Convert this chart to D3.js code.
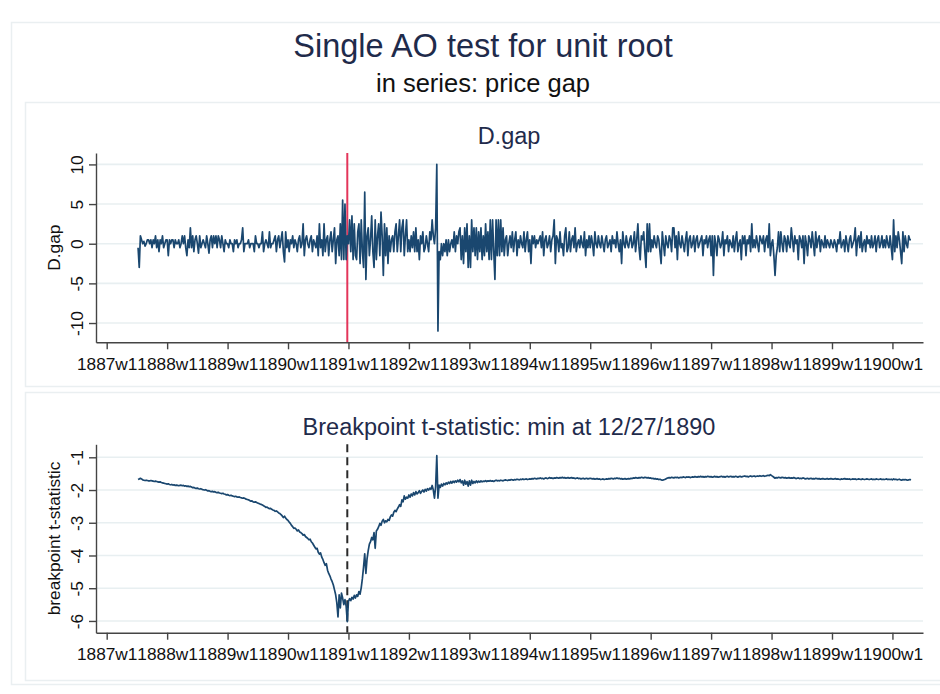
<!DOCTYPE html>
<html><head><meta charset="utf-8">
<script src="https://cdn.jsdelivr.net/npm/d3@7"></script>
<style>
body{margin:0;background:#fff}
svg{display:block}
text{font-family:"Liberation Sans",Arial,Helvetica,sans-serif}
</style>
</head><body>
<svg id="chart" width="940" height="694"></svg>
<script>
// ---------- DATA ----------
const titleText = "Single AO test for unit root";
const subtitleText = "in series: price gap";
const topPanelTitle = "D.gap";
const bottomPanelTitle = "Breakpoint t-statistic: min at 12/27/1890";
const topYTitle = "D.gap";
const bottomYTitle = "breakpoint t-statistic";

// weekly x-axis ticks (week index counted from 1887w1, 52 weeks per year)
const xTickLabels = ["1887w1","1888w1","1889w1","1890w1","1891w1","1892w1","1893w1","1894w1","1895w1","1896w1","1897w1","1898w1","1899w1","1900w1"];
const xTickWeeks = [0,52,104,156,208,260,312,364,416,468,520,572,624,676];
const firstWeek = 27;      // 1887w28: first observation
const breakWeek = 207;     // 1890w52 (12/27/1890)

const gapTicks = [-10,-5,0,5,10];
const tTicks = [-6,-5,-4,-3,-2,-1];

// D.gap, weekly from 1887w28
const dGap = [
// 1887
-0.5,-3,1,0.5,0,0.3,-0.3,0,0.5,0.5,0,0.5,-0.5,0.5,0,1,-0.5,0.5,-1,0.5,0,1,-0.5,0,0.5,
// 1888
0.5,-1.5,0.5,0,0.5,0.5,-0.5,0.5,0,0,0.5,-0.5,0,1,0,1,-0.5,-1.5,0.5,-0.5,2,-0.5,1,-1,0.5,1,0,-1.2,1,-0.5,0,0.5,0,-0.5,1,0,-1.2,0.5,1,-0.5,1,0,1,-0.5,1,0.5,-0.5,1,0,-1,0.5,0,
// 1889
0,-0.5,0.5,0,0,-1,0.5,0,0.5,-0.5,0,0,0.5,2,-1,0,0,0,0.5,-0.5,0,0,0,-1,1,0,0,-0.5,0,0,1.5,-1,0,0.5,0,-0.5,1.5,-0.5,0,0,0.5,1,-1,0.5,1,-0.5,0.5,1.5,-1,-2.3,1.5,-0.5,
// 1890
0.5,-1,0.5,0,1,-0.5,0.5,0,-1,0.5,1,-0.5,0,2.5,-1.5,0.5,1,0,-0.5,0.5,1,-1,0.5,0,-0.5,1,-1.5,2.5,-0.5,0.5,-1.5,2.5,-1,0.5,1,-1.5,0.5,1.5,-1,0.5,2,-2.5,0.5,1,-1.5,2.5,-2,5.5,-2,5,-2,1,
// 1891
0,3,-1,3.5,-2,2.5,-1.5,-2,1.5,2.5,-2.5,3,-1,-3,6.5,-4.5,1,2,-1.5,0.5,3.5,-1,-3,3,-2,1,2.5,-1.5,4,1,-4,2.5,-1.5,2,-2.5,1,-1,0.5,1,-1,1.5,2.5,-1,1,3,-1,2,3,-1.5,1,3,-1,
// 1892
0.5,-1,1,-0.5,1.5,-1,2,-1,0.5,-2,1,0,1.5,-1,-0.5,1,0,-1,1.5,0.5,3,1,0,2,10,-11,-1,-2,0,-1.5,0,-1,0.5,-1.5,0.5,-1,0,0.5,-0.5,1.5,-1,1,0,1.5,2,-2,1,-2.5,2,-1,2.5,-3,
// 1893
1,-3,3,-1,2,-1.5,2,-2,1.5,-1,2,-2,1,-1.5,2.5,-1,1.5,-2,3,-2,3,-1,-4.5,3,-1.5,3,-1.5,3,-1,2,-1.5,0.5,1,-1.5,0,1,-0.5,1.5,-1,0.5,1.5,-1.5,0.5,-0.5,1,0,-0.5,1.5,-1,0.5,1.5,-1,
// 1894
0.5,-2.5,1,0,1,-0.5,0.5,0,0.5,1,-0.5,1.5,-1.5,0.5,1,-0.5,0,1,-1,0.5,1,3,-2.5,1,0.5,-1,1.5,-0.5,0,-1.5,1,2,-1,-0.5,1.5,-1,0.5,1,-0.5,2,-1,0,0.5,-0.5,1,0,-0.5,1.5,-1.5,0.5,-0.5,1,
// 1895
-0.5,1,0,-1.5,1.5,0,-0.5,1,0,-0.5,1,0,-1,0.5,1,-0.5,0,0.5,-1,1,0,0.5,-0.5,1.5,0,-1,0.5,-2.5,1.5,0,-0.5,1,0,-0.5,0.5,1,-0.5,0,1.5,-1,0.5,2.5,-0.5,-2,1,0.5,1.5,-1,-3,2.5,-1,2.5,
// 1896
-1,0.5,-0.5,1,0,-0.5,1,0.5,-1,-2.5,1.5,0,-1.5,1,0,-0.5,1,0.5,-1,2,2,-0.5,1,-2,1.5,0,-0.5,1,0,-1,0.5,1.5,-1.5,0.5,1,-0.5,0,1,-1,0.5,1,-0.5,0,0.5,1,-1.5,0.5,0,1,-0.5,0.5,1,
// 1897
-1.5,1,-4,1,0,-1.5,1,0.5,-0.5,0,1.5,-1.5,0.5,0,1,-1,0.5,0,-0.5,1,-1,0.5,1.5,-1,0,0.5,-2,1,0,1,-1.5,0.5,0,1,-1,2.5,-0.5,0.5,-0.5,1,0,-1,1,0.5,0,1,-1,0.5,1,-0.5,2.5,-1.5,
// 1898
0,0.5,-1.5,-4,-1.5,-0.5,1.5,-1,1.5,0,-1,1,0.5,-1,1,0,-0.5,2,0.5,-1,1,0,0.5,-2,1,0.5,-0.5,1,-2.5,1,0,-1.5,1,0.5,-0.5,1.5,0,-1.5,1.5,-0.5,0.5,1,-1,0.5,0,-0.5,1,-0.5,0.5,0,-0.5,0.5,
// 1899
0,-0.5,0.5,0,-1,0.5,0,1.5,-0.5,0,0.5,-1,1,0,-1,0.5,1,-0.5,0,0.5,2,-1.5,0.5,1,-0.5,1.5,-1,0,0.5,-1,1,0,0.5,-0.5,1,-0.5,0,1,-1,0.5,1,-0.5,0,1,-0.5,0.5,-0.5,1,0,-0.5,1,-0.5,
// 1900
-2,3,-1,1,-0.5,1.5,0.5,-1,-2.5,1.5,-1,1,0,-0.5,1,0.5,0.5
];

// breakpoint t-statistic, weekly from 1887w28
const tStat = [
// 1887
-1.68,-1.66,-1.64,-1.66,-1.69,-1.70,-1.71,-1.70,-1.71,-1.72,-1.72,-1.71,-1.72,-1.73,-1.74,-1.73,-1.74,-1.75,-1.76,-1.75,-1.77,-1.78,-1.79,-1.80,-1.81,
// 1888
-1.82,-1.81,-1.83,-1.84,-1.83,-1.85,-1.84,-1.86,-1.85,-1.86,-1.87,-1.86,-1.85,-1.87,-1.86,-1.88,-1.87,-1.89,-1.88,-1.90,-1.89,-1.91,-1.93,-1.92,-1.94,-1.95,-1.94,-1.96,-1.97,-1.96,-1.98,-1.99,-2.00,-1.99,-2.01,-2.03,-2.02,-2.04,-2.05,-2.04,-2.06,-2.05,-2.07,-2.08,-2.07,-2.09,-2.10,-2.11,-2.10,-2.12,-2.13,-2.15,
// 1889
-2.14,-2.16,-2.17,-2.16,-2.18,-2.19,-2.20,-2.19,-2.21,-2.22,-2.21,-2.23,-2.24,-2.25,-2.24,-2.26,-2.28,-2.29,-2.30,-2.32,-2.34,-2.33,-2.36,-2.37,-2.36,-2.38,-2.40,-2.41,-2.43,-2.44,-2.46,-2.48,-2.50,-2.53,-2.52,-2.55,-2.57,-2.56,-2.59,-2.61,-2.62,-2.65,-2.64,-2.67,-2.70,-2.72,-2.75,-2.79,-2.84,-2.80,-2.86,-2.90,
// 1890
-2.93,-2.98,-3.02,-3.08,-3.12,-3.17,-3.16,-3.20,-3.25,-3.22,-3.28,-3.30,-3.33,-3.38,-3.36,-3.42,-3.45,-3.48,-3.52,-3.50,-3.58,-3.62,-3.68,-3.74,-3.80,-3.78,-3.90,-3.96,-3.92,-4.05,-4.12,-4.22,-4.30,-4.25,-4.45,-4.55,-4.62,-4.72,-4.80,-4.90,-5.05,-5.20,-5.45,-5.88,-5.20,-5.60,-5.15,-5.30,-5.50,-5.35,-5.55,-6.02,
// 1891
-5.40,-5.32,-5.38,-5.28,-5.33,-5.22,-5.30,-5.20,-5.25,-5.10,-5.18,-4.98,-4.70,-4.35,-3.95,-4.55,-4.10,-3.85,-3.65,-3.58,-3.45,-3.52,-3.30,-3.78,-3.25,-3.20,-3.12,-3.02,-3.08,-2.95,-2.90,-3.00,-2.94,-2.97,-2.90,-2.93,-2.82,-2.76,-2.80,-2.68,-2.62,-2.66,-2.58,-2.52,-2.45,-2.50,-2.30,-2.36,-2.18,-2.28,-2.22,-2.25,
// 1892
-2.15,-2.22,-2.12,-2.18,-2.08,-2.15,-2.05,-2.12,-2.08,-2.02,-2.10,-2.04,-2.00,-2.06,-1.98,-2.03,-1.96,-2.00,-1.94,-1.98,-1.86,-2.00,-2.25,-1.90,-0.95,-2.25,-1.85,-1.92,-1.82,-1.88,-1.80,-1.84,-1.78,-1.82,-1.76,-1.80,-1.74,-1.79,-1.73,-1.77,-1.72,-1.76,-1.70,-1.75,-1.68,-1.78,-1.72,-1.85,-1.70,-1.82,-1.74,-1.88,
// 1893
-1.72,-1.85,-1.70,-1.80,-1.74,-1.78,-1.72,-1.77,-1.73,-1.76,-1.72,-1.75,-1.73,-1.74,-1.71,-1.74,-1.72,-1.73,-1.71,-1.73,-1.72,-1.74,-1.72,-1.70,-1.72,-1.71,-1.72,-1.70,-1.71,-1.72,-1.70,-1.69,-1.70,-1.71,-1.69,-1.70,-1.68,-1.69,-1.70,-1.68,-1.69,-1.67,-1.68,-1.69,-1.67,-1.68,-1.66,-1.68,-1.67,-1.66,-1.68,-1.67,
// 1894
-1.66,-1.67,-1.65,-1.66,-1.64,-1.65,-1.66,-1.64,-1.65,-1.63,-1.65,-1.64,-1.66,-1.64,-1.63,-1.65,-1.64,-1.62,-1.64,-1.63,-1.65,-1.63,-1.64,-1.62,-1.63,-1.64,-1.62,-1.63,-1.61,-1.63,-1.62,-1.64,-1.63,-1.62,-1.64,-1.63,-1.62,-1.64,-1.63,-1.65,-1.64,-1.63,-1.65,-1.64,-1.66,-1.65,-1.64,-1.66,-1.65,-1.64,-1.66,-1.65,
// 1895
-1.64,-1.65,-1.66,-1.65,-1.67,-1.66,-1.65,-1.67,-1.66,-1.68,-1.67,-1.66,-1.68,-1.67,-1.66,-1.67,-1.65,-1.66,-1.64,-1.65,-1.66,-1.64,-1.65,-1.63,-1.65,-1.64,-1.66,-1.65,-1.67,-1.66,-1.65,-1.67,-1.66,-1.65,-1.66,-1.64,-1.65,-1.63,-1.64,-1.62,-1.63,-1.64,-1.62,-1.63,-1.61,-1.62,-1.63,-1.61,-1.62,-1.63,-1.62,-1.64,
// 1896
-1.63,-1.65,-1.64,-1.66,-1.65,-1.67,-1.66,-1.68,-1.67,-1.69,-1.70,-1.69,-1.68,-1.66,-1.64,-1.63,-1.62,-1.63,-1.61,-1.62,-1.63,-1.61,-1.62,-1.61,-1.63,-1.62,-1.61,-1.62,-1.60,-1.61,-1.62,-1.60,-1.61,-1.60,-1.62,-1.61,-1.60,-1.61,-1.59,-1.60,-1.61,-1.59,-1.60,-1.58,-1.60,-1.59,-1.61,-1.59,-1.60,-1.58,-1.59,-1.60,
// 1897
-1.59,-1.61,-1.60,-1.58,-1.60,-1.59,-1.61,-1.60,-1.59,-1.58,-1.60,-1.59,-1.61,-1.59,-1.58,-1.60,-1.59,-1.58,-1.60,-1.59,-1.60,-1.58,-1.59,-1.61,-1.59,-1.58,-1.60,-1.59,-1.58,-1.57,-1.59,-1.58,-1.60,-1.58,-1.57,-1.59,-1.58,-1.57,-1.59,-1.58,-1.57,-1.58,-1.56,-1.58,-1.57,-1.56,-1.58,-1.57,-1.56,-1.55,-1.56,-1.53,
// 1898
-1.56,-1.58,-1.61,-1.64,-1.62,-1.63,-1.61,-1.62,-1.63,-1.61,-1.62,-1.63,-1.62,-1.64,-1.63,-1.62,-1.64,-1.63,-1.64,-1.62,-1.63,-1.65,-1.64,-1.63,-1.65,-1.64,-1.65,-1.63,-1.64,-1.66,-1.65,-1.64,-1.66,-1.65,-1.64,-1.66,-1.65,-1.66,-1.64,-1.65,-1.66,-1.65,-1.67,-1.66,-1.65,-1.66,-1.67,-1.66,-1.65,-1.67,-1.66,-1.65,
// 1899
-1.66,-1.67,-1.66,-1.65,-1.67,-1.66,-1.67,-1.68,-1.66,-1.67,-1.66,-1.65,-1.67,-1.66,-1.67,-1.66,-1.68,-1.67,-1.66,-1.67,-1.66,-1.68,-1.67,-1.66,-1.67,-1.68,-1.66,-1.67,-1.68,-1.67,-1.66,-1.67,-1.68,-1.67,-1.66,-1.68,-1.67,-1.68,-1.66,-1.67,-1.68,-1.67,-1.66,-1.68,-1.67,-1.68,-1.67,-1.66,-1.68,-1.67,-1.68,-1.67,
// 1900
-1.69,-1.66,-1.68,-1.67,-1.69,-1.68,-1.67,-1.69,-1.70,-1.68,-1.69,-1.68,-1.69,-1.70,-1.69,-1.68,-1.69
];

// ---------- DRAWING ----------
const svg = d3.select("#chart");
const FONT = '"Liberation Sans",Arial,Helvetica,sans-serif';
const navy = "#1f2b4b";
const lineColor = "#1a476f";
const gridColor = "#e8eff1";
const axisColor = "#444";
const frameColor = "#eaeff1";

svg.append("rect").attr("width",940).attr("height",694).attr("fill","#fff");

// outer and panel frames
svg.append("rect").attr("x",11.5).attr("y",22.5).attr("width",940).attr("height",662)
  .attr("fill","none").attr("stroke",frameColor).attr("stroke-width",1.5);
svg.append("rect").attr("x",25.5).attr("y",102.5).attr("width",930).attr("height",284)
  .attr("fill","none").attr("stroke",frameColor).attr("stroke-width",1.5);
svg.append("rect").attr("x",25.5).attr("y",392.5).attr("width",930).attr("height",288)
  .attr("fill","none").attr("stroke",frameColor).attr("stroke-width",1.5);

// titles
svg.append("text").attr("x",483).attr("y",57).attr("text-anchor","middle")
  .attr("font-size",32.5).attr("fill",navy).text(titleText);
svg.append("text").attr("x",483).attr("y",92).attr("text-anchor","middle")
  .attr("font-size",25.5).attr("fill","#111").text(subtitleText);

const x = d3.scaleLinear().domain([-9.2, 702.3]).range([96, 923]);

function panel(opts){
  const {yDomain, yRange, ticks, data, title, titleY, yTitle, vline} = opts;
  const y = d3.scaleLinear().domain(yDomain).range(yRange);
  const g = svg.append("g");
  const x0 = x.range()[0], x1 = x.range()[1];
  // grid
  g.selectAll("line.grid").data(ticks).join("line")
    .attr("x1",x0).attr("x2",x1).attr("y1",d=>y(d)).attr("y2",d=>y(d))
    .attr("stroke",gridColor).attr("stroke-width",1.6);
  // vertical marker
  const vl = g.append("line").attr("x1",x(breakWeek)).attr("x2",x(breakWeek))
    .attr("y1",yRange[1]).attr("y2",yRange[0])
    .attr("stroke",vline.color).attr("stroke-width",vline.width);
  if (vline.dash) vl.attr("stroke-dasharray",vline.dash);
  // data line
  const line = d3.line().x((d,i)=>x(firstWeek+i)).y(d=>y(d));
  g.append("path").datum(data).attr("d",line).attr("fill","none")
    .attr("stroke",lineColor).attr("stroke-width",1.7).attr("stroke-linejoin","round");
  // x axis
  const xa = g.append("g").attr("transform",`translate(0,${yRange[0]})`)
    .call(d3.axisBottom(x).tickValues(xTickWeeks).tickFormat((d,i)=>xTickLabels[i])
      .tickSize(7).tickPadding(8).tickSizeOuter(0));
  xa.select(".domain").attr("stroke",axisColor).attr("stroke-width",1.4);
  xa.selectAll(".tick line").attr("stroke",axisColor).attr("stroke-width",1.4);
  xa.selectAll(".tick text").attr("font-size",17.3).attr("fill","#111").attr("font-family",FONT);
  // y axis
  const ya = g.append("g").attr("transform",`translate(${x0},0)`)
    .call(d3.axisLeft(y).tickValues(ticks).tickFormat(d=>String(d)).tickSize(7).tickSizeOuter(0));
  ya.select(".domain").attr("stroke",axisColor).attr("stroke-width",1.4);
  ya.selectAll(".tick line").attr("stroke",axisColor).attr("stroke-width",1.4);
  ya.selectAll(".tick text").attr("font-size",17.3).attr("fill","#111").attr("font-family",FONT)
    .attr("transform","rotate(-90)").attr("x",0).attr("y",-13).attr("dy",0)
    .attr("text-anchor","middle");
  // y title
  const cy = (yRange[0]+yRange[1])/2;
  svg.append("text").attr("transform",`translate(60,${cy}) rotate(-90)`)
    .attr("text-anchor","middle").attr("font-size",17.3).attr("fill","#111").text(yTitle);
  // panel title
  svg.append("text").attr("x",509).attr("y",titleY).attr("text-anchor","middle")
    .attr("font-size",23.5).attr("fill",navy).text(title);
}

panel({yDomain:[-12.43,11.44], yRange:[342.3,153], ticks:gapTicks, data:dGap,
  title:topPanelTitle, titleY:144, yTitle:topYTitle,
  vline:{color:"#e3355a", width:2}});
panel({yDomain:[-6.359,-0.603], yRange:[632.7,444.3], ticks:tTicks, data:tStat,
  title:bottomPanelTitle, titleY:435, yTitle:bottomYTitle,
  vline:{color:"#2a2a2a", width:2, dash:"8,5"}});
</script>
</body></html>
